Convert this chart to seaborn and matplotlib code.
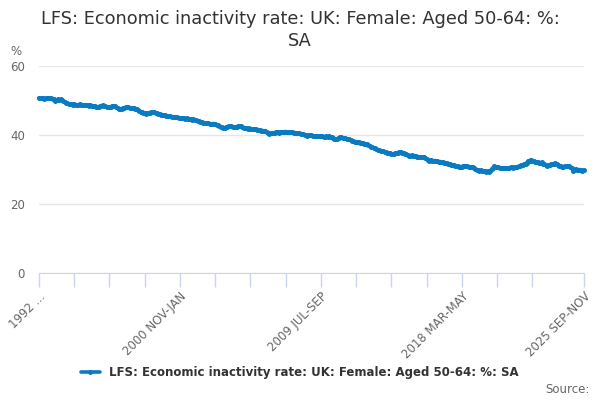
import numpy as np
import pandas as pd
import matplotlib
matplotlib.use("Agg")
import matplotlib.pyplot as plt
import seaborn as sns

# rolling quarterly periods, first one 1992 MAR-MAY, last one 2025 SEP-NOV
start_year = 1992
start_month = 2  # MAR
quarters = ['JAN-MAR', 'FEB-APR', 'MAR-MAY', 'APR-JUN', 'MAY-JUL', 'JUN-AUG',
            'JUL-SEP', 'AUG-OCT', 'SEP-NOV', 'OCT-DEC', 'NOV-JAN', 'DEC-FEB']

# values, one row per year (1992 starts at MAR-MAY, 2025 ends at SEP-NOV)
v1992 = [50.8, 50.7, 50.6, 50.7, 50.5, 50.6, 50.7, 50.8, 50.7, 50.6]
v1993 = [50.5, 50.3, 50.0, 50.1, 50.3, 50.2, 50.3, 50.1, 49.8, 49.6, 49.4, 49.2]
v1994 = [49.0, 49.0, 48.9, 48.8, 48.9, 48.8, 48.7, 48.8, 48.9, 48.8, 48.7, 48.8]
v1995 = [48.7, 48.6, 48.6, 48.5, 48.6, 48.4, 48.5, 48.3, 48.2, 48.1, 48.2, 48.3]
v1996 = [48.5, 48.6, 48.4, 48.3, 48.1, 48.0, 48.1, 48.2, 48.4, 48.5, 48.3, 48.0]
v1997 = [47.8, 47.6, 47.5, 47.6, 47.8, 47.9, 48.0, 48.1, 48.0, 47.9, 47.8, 47.9]
v1998 = [47.7, 47.6, 47.5, 47.2, 47.0, 46.8, 46.6, 46.4, 46.3, 46.2, 46.3, 46.4]
v1999 = [46.5, 46.6, 46.6, 46.7, 46.5, 46.3, 46.1, 46.0, 45.9, 45.8, 45.8, 45.7]
v2000 = [45.6, 45.5, 45.5, 45.4, 45.3, 45.2, 45.3, 45.2, 45.1, 45.0, 44.9, 44.8]
v2001 = [44.8, 44.9, 44.7, 44.8, 44.7, 44.6, 44.5, 44.4, 44.5, 44.4, 44.3, 44.1]
v2002 = [44.0, 43.8, 43.7, 43.6, 43.5, 43.4, 43.5, 43.4, 43.3, 43.2, 43.3, 43.3]
v2003 = [43.2, 43.0, 42.8, 42.6, 42.4, 42.2, 42.1, 42.0, 42.2, 42.4, 42.6, 42.7]
v2004 = [42.5, 42.3, 42.2, 42.3, 42.4, 42.5, 42.6, 42.5, 42.3, 42.1, 42.0, 41.9]
v2005 = [41.8, 41.9, 41.8, 41.7, 41.6, 41.7, 41.6, 41.5, 41.5, 41.4, 41.3, 41.3]
v2006 = [41.2, 41.1, 40.8, 40.6, 40.3, 40.5, 40.7, 40.6, 40.7, 40.8, 40.8, 40.7]
v2007 = [40.8, 40.9, 40.8, 40.9, 41.0, 40.9, 40.9, 40.8, 40.9, 40.8, 40.7, 40.7]
v2008 = [40.6, 40.5, 40.5, 40.4, 40.3, 40.2, 40.0, 39.9, 39.8, 39.9, 40.0, 39.9]
v2009 = [39.8, 39.8, 39.7, 39.8, 39.7, 39.6, 39.7, 39.6, 39.5, 39.5, 39.6, 39.5]
v2010 = [39.6, 39.5, 39.4, 39.2, 38.9, 38.7, 38.9, 39.2, 39.4, 39.3, 39.2, 39.1]
v2011 = [39.0, 38.9, 38.8, 38.7, 38.6, 38.4, 38.2, 38.0, 38.1, 38.0, 37.9, 37.8]
v2012 = [37.7, 37.6, 37.5, 37.4, 37.3, 37.0, 36.8, 36.6, 36.4, 36.3, 36.1, 35.9]
v2013 = [35.7, 35.6, 35.5, 35.4, 35.3, 35.2, 35.0, 34.9, 34.8, 34.7, 34.6, 34.5]
v2014 = [34.6, 34.7, 34.8, 34.9, 35.0, 35.0, 34.9, 34.8, 34.6, 34.4, 34.2, 34.0]
v2015 = [34.0, 34.1, 34.0, 33.9, 33.8, 33.7, 33.6, 33.6, 33.5, 33.6, 33.5, 33.4]
v2016 = [33.0, 32.8, 32.6, 32.7, 32.6, 32.5, 32.6, 32.5, 32.4, 32.3, 32.3, 32.2]
v2017 = [32.1, 32.0, 31.9, 31.8, 31.6, 31.5, 31.4, 31.3, 31.2, 31.1, 31.0, 30.9]
v2018 = [30.8, 30.7, 30.8, 31.0, 31.1, 31.0, 30.9, 30.8, 30.8, 30.7, 30.6, 30.4]
v2019 = [30.2, 30.0, 29.9, 29.7, 29.8, 29.6, 29.5, 29.6, 29.4, 29.5, 29.4, 29.6]
v2020 = [30.1, 30.5, 30.9, 30.8, 30.7, 30.6, 30.5, 30.4, 30.5, 30.4, 30.4, 30.5]
v2021 = [30.4, 30.5, 30.6, 30.6, 30.5, 30.6, 30.7, 30.8, 30.9, 31.1, 31.3, 31.4]
v2022 = [31.5, 31.7, 32.0, 32.4, 32.6, 32.8, 32.6, 32.4, 32.3, 32.1, 32.2, 32.0]
v2023 = [31.9, 32.1, 31.7, 31.5, 31.3, 31.1, 31.2, 31.4, 31.5, 31.6, 31.7, 31.8]
v2024 = [31.6, 31.4, 31.1, 30.9, 30.7, 30.8, 30.9, 31.0, 31.1, 31.0, 30.7, 30.4]
v2025 = [29.7, 30.0, 30.1, 29.9, 29.8, 30.0, 29.8, 29.7, 29.8]

years = [v1992, v1993, v1994, v1995, v1996, v1997, v1998, v1999, v2000, v2001,
         v2002, v2003, v2004, v2005, v2006, v2007, v2008, v2009, v2010, v2011,
         v2012, v2013, v2014, v2015, v2016, v2017, v2018, v2019, v2020, v2021,
         v2022, v2023, v2024, v2025]
values = [v for row in years for v in row]

labels = []
for i in range(len(values)):
    m = start_month + i
    labels.append(f"{start_year + m // 12} {quarters[m % 12]}")

df = pd.DataFrame({'idx': np.arange(len(values)), 'period': labels, 'rate': values})

series_name = 'LFS: Economic inactivity rate: UK: Female: Aged 50-64: %: SA'
line_color = '#0a7ac2'

sns.set_style('white')
plt.rcParams['font.family'] = ['DejaVu Sans']

fig = plt.figure(figsize=(6, 4), dpi=100)
ax = fig.add_axes([0.065, 0.3175, 0.908, 0.5175])

sns.lineplot(data=df, x='idx', y='rate', ax=ax, color=line_color, linewidth=2.6,
             marker='o', markersize=3.6, markeredgewidth=0, clip_on=False)

ax.set_xlim(0, len(values) - 1)
ax.set_ylim(0, 60)
ax.set_yticks([0, 20, 40, 60])
ax.yaxis.grid(True, color='#e6e6e6', linewidth=1)
ax.set_axisbelow(True)
ax.tick_params(axis='y', length=0, labelsize=8.5, labelcolor='#666666', pad=10)

# ticks every 26 periods plus the final period; labels every fourth one
tick_pos = list(range(0, 390, 26)) + [len(values) - 1]
shown = {0: '1992 ...', 104: labels[104], 208: labels[208], 312: labels[312],
         len(values) - 1: labels[-1]}
ax.set_xticks(tick_pos)
ax.set_xticklabels([shown.get(p, '') for p in tick_pos], rotation=45,
                   ha='right', rotation_mode='anchor')
ax.tick_params(axis='x', bottom=True, length=10, width=1, color='#ccd6eb',
               direction='out', labelsize=8.5, labelcolor='#666666', pad=2)

for side in ['left', 'right', 'top']:
    ax.spines[side].set_visible(False)
ax.spines['bottom'].set_color('#ccd6eb')
ax.set_xlabel('')
ax.set_ylabel('')

fig.text(0.5, 0.975, 'LFS: Economic inactivity rate: UK: Female: Aged 50-64: %:\nSA',
         ha='center', va='top', fontsize=12.8, color='#333333', linespacing=1.25)
fig.text(0.018, 0.862, '%', fontsize=8.5, color='#666666')

ax.legend([ax.lines[0]], [series_name], loc='center', bbox_to_anchor=(0.5, 0.068),
          bbox_transform=fig.transFigure, frameon=False, handlelength=1.6,
          prop={'weight': 'bold', 'size': 8.5}, labelcolor='#333333')
fig.text(0.982, 0.018, 'Source:', ha='right', fontsize=8.5, color='#666666')

fig.savefig('out.png', dpi=100)
